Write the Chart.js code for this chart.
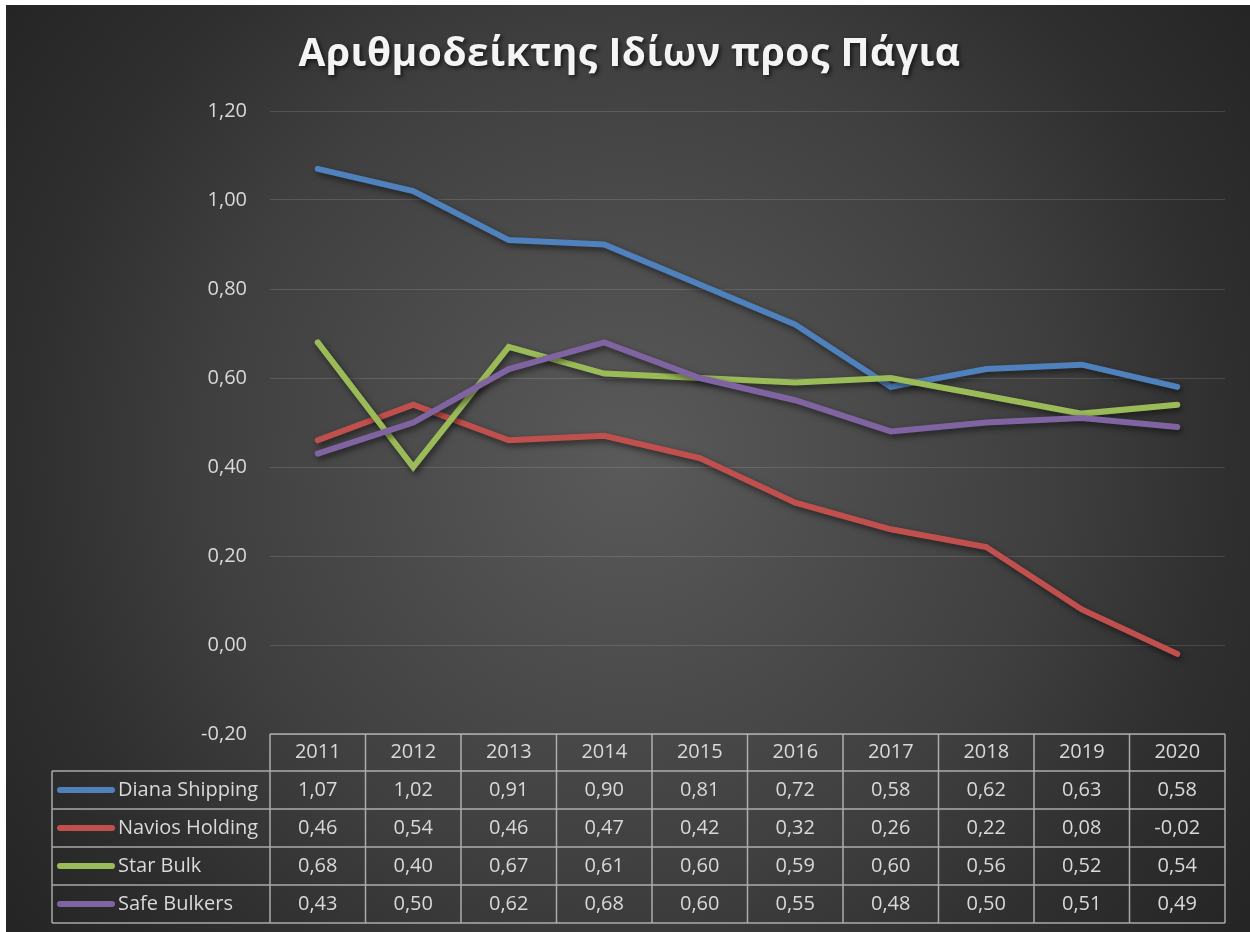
<!DOCTYPE html>
<html>
<head>
<meta charset="utf-8">
<title>Αριθμοδείκτης Ιδίων προς Πάγια</title>
<script src="https://cdn.jsdelivr.net/npm/chart.js@4.4.1/dist/chart.umd.min.js"></script>
<style>
    body { margin: 0; background: #ffffff; }
    #chartWrap { position: absolute; left: 6px; top: 5px; width: 1244px; height: 927px; }
</style>
</head>
<body>
<div id="chartWrap"><canvas id="equityChart"></canvas></div>
<script>
// Data
const years = ['2011', '2012', '2013', '2014', '2015', '2016', '2017', '2018', '2019', '2020'];
const dianaShipping = [1.07, 1.02, 0.91, 0.90, 0.81, 0.72, 0.58, 0.62, 0.63, 0.58];
const naviosHolding = [0.46, 0.54, 0.46, 0.47, 0.42, 0.32, 0.26, 0.22, 0.08, -0.02];
const starBulk = [0.68, 0.40, 0.67, 0.61, 0.60, 0.59, 0.60, 0.56, 0.52, 0.54];
const safeBulkers = [0.43, 0.50, 0.62, 0.68, 0.60, 0.55, 0.48, 0.50, 0.51, 0.49];
const seriesNames = ['Diana Shipping', 'Navios Holding', 'Star Bulk', 'Safe Bulkers'];
const seriesColors = ['#4f81bd', '#c0504d', '#9bbb59', '#8064a2'];
const axisMin = -0.2;
const axisMax = 1.2;
const axisStep = 0.2;

const fontFamily = "'Open Sans', 'Noto Sans', sans-serif";
const textColor = '#d9d9d9';

// Greek style decimal comma
function formatNumber(v) {
    const r = Math.round(v * 100) / 100;
    return (r === 0 ? 0 : r).toFixed(2).replace('.', ',');
}

// Dark radial background like the Excel style
const backgroundPlugin = {
    id: 'darkBackground',
    beforeDraw(chart) {
        const ctx = chart.ctx;
        const w = chart.width, h = chart.height;
        const cx = w * 0.5, cy = h * 0.49;
        const g = ctx.createRadialGradient(cx, cy, 0, cx, cy, 770);
        g.addColorStop(0, '#5a5a5a');
        g.addColorStop(0.55, '#3f3f3f');
        g.addColorStop(0.78, '#2f2f2f');
        g.addColorStop(1, '#252525');
        ctx.save();
        ctx.fillStyle = g;
        ctx.fillRect(0, 0, w, h);
        ctx.restore();
    }
};

// Letter spacing + shadow on the title
const titleStylePlugin = {
    id: 'titleStyle',
    afterInit(chart) {
        const tb = chart.titleBlock;
        if (!tb) return;
        const origDraw = tb.draw.bind(tb);
        tb.draw = function() {
            const ctx = chart.ctx;
            ctx.save();
            ctx.letterSpacing = '0.5px';
            ctx.shadowColor = 'rgba(0, 0, 0, 0.65)';
            ctx.shadowBlur = 4;
            ctx.shadowOffsetX = 2;
            ctx.shadowOffsetY = 2;
            origDraw();
            ctx.restore();
        };
    }
};

// Soft drop shadow under each line
const lineShadowPlugin = {
    id: 'lineShadow',
    beforeDatasetDraw(chart) {
        const ctx = chart.ctx;
        ctx.save();
        ctx.shadowColor = 'rgba(0, 0, 0, 0.55)';
        ctx.shadowBlur = 6;
        ctx.shadowOffsetX = 2;
        ctx.shadowOffsetY = 3;
    },
    afterDatasetDraw(chart) {
        chart.ctx.restore();
    }
};

// Data table under the plot, columns aligned with the category scale
const dataTablePlugin = {
    id: 'dataTable',
    afterDraw(chart) {
        const ctx = chart.ctx;
        const area = chart.chartArea;
        const xScale = chart.scales.x;
        const n = years.length;
        const colW = (area.right - area.left) / n;
        const headerH = 37;
        const rowH = 38;
        const legendLeft = 46;
        const top = area.bottom;
        const rowsTop = top + headerH;
        const bottom = rowsTop + rowH * seriesNames.length;

        ctx.save();
        ctx.strokeStyle = 'rgba(210, 210, 210, 0.75)';
        ctx.lineWidth = 1.5;

        // header row
        ctx.beginPath();
        ctx.moveTo(area.left, top);
        ctx.lineTo(area.right, top);
        for (let i = 0; i <= n; i++) {
            const x = area.left + colW * i;
            ctx.moveTo(x, top);
            ctx.lineTo(x, bottom);
        }
        // series rows
        for (let r = 0; r <= seriesNames.length; r++) {
            const y = rowsTop + rowH * r;
            ctx.moveTo(legendLeft, y);
            ctx.lineTo(area.right, y);
        }
        ctx.moveTo(legendLeft, rowsTop);
        ctx.lineTo(legendLeft, bottom);
        ctx.stroke();

        ctx.font = '20px ' + fontFamily;
        ctx.fillStyle = textColor;
        ctx.textBaseline = 'middle';
        ctx.textAlign = 'center';

        years.forEach((year, i) => {
            ctx.fillText(year, xScale.getPixelForValue(i), top + headerH / 2);
        });

        chart.data.datasets.forEach((ds, r) => {
            const cy = rowsTop + rowH * r + rowH / 2;
            // legend key
            ctx.save();
            ctx.strokeStyle = ds.borderColor;
            ctx.lineWidth = 6;
            ctx.lineCap = 'round';
            ctx.beginPath();
            ctx.moveTo(legendLeft + 8, cy);
            ctx.lineTo(legendLeft + 60, cy);
            ctx.stroke();
            ctx.restore();

            ctx.textAlign = 'left';
            ctx.fillText(ds.label, legendLeft + 66, cy);
            ctx.textAlign = 'center';
            ds.data.forEach((v, i) => {
                ctx.fillText(formatNumber(v), xScale.getPixelForValue(i), cy);
            });
        });
        ctx.restore();
    }
};

function makeDataset(label, values, color, order) {
    return {
        label: label,
        data: values,
        borderColor: color,
        backgroundColor: color,
        borderWidth: 6,
        borderCapStyle: 'round',
        borderJoinStyle: 'miter',
        pointRadius: 0,
        pointHoverRadius: 0,
        tension: 0,
        order: order
    };
}

const ctx = document.getElementById('equityChart').getContext('2d');
new Chart(ctx, {
    type: 'line',
    data: {
        labels: years,
        datasets: [
            makeDataset(seriesNames[0], dianaShipping, seriesColors[0], 4),
            makeDataset(seriesNames[1], naviosHolding, seriesColors[1], 3),
            makeDataset(seriesNames[2], starBulk, seriesColors[2], 2),
            makeDataset(seriesNames[3], safeBulkers, seriesColors[3], 1)
        ]
    },
    options: {
        responsive: true,
        maintainAspectRatio: false,
        animation: false,
        layout: {
            padding: { left: 28, right: 25, top: 0, bottom: 198 }
        },
        plugins: {
            legend: { display: false },
            tooltip: { enabled: false },
            title: {
                display: true,
                text: 'Αριθμοδείκτης Ιδίων προς Πάγια',
                color: '#f4f4f4',
                font: { family: fontFamily, size: 39, weight: 'bold', lineHeight: 1.2 },
                padding: { top: 26, bottom: 33.2 }
            }
        },
        scales: {
            x: {
                display: false,
                offset: true
            },
            y: {
                min: axisMin,
                max: axisMax,
                afterFit(scale) {
                    scale.width = 236; // puts the plot's left edge at the table's first column
                },
                ticks: {
                    stepSize: axisStep,
                    padding: 23,
                    color: textColor,
                    font: { family: fontFamily, size: 20 },
                    callback: (v) => formatNumber(v)
                },
                grid: {
                    color: 'rgba(255, 255, 255, 0.13)',
                    lineWidth: 1,
                    drawTicks: false
                },
                border: { display: false }
            }
        }
    },
    plugins: [backgroundPlugin, titleStylePlugin, lineShadowPlugin, dataTablePlugin]
});
</script>
</body>
</html>
